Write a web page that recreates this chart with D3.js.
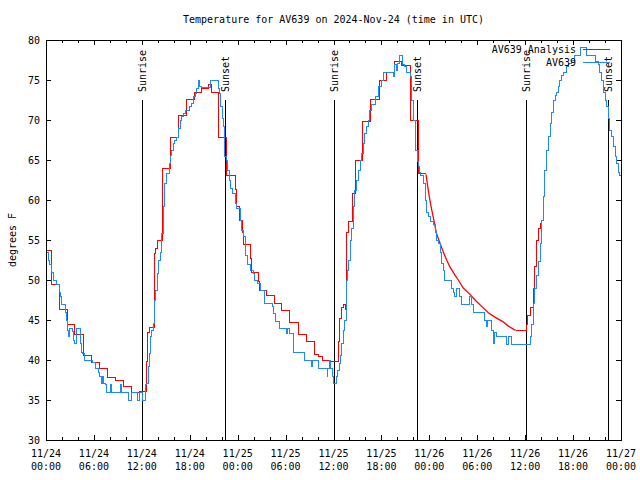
<!DOCTYPE html>
<html>
<head>
<meta charset="utf-8">
<script src="https://cdn.jsdelivr.net/npm/d3@7"></script>
<style>
  body { margin: 0; background: #fff; }
  svg { display: block; }
  text { font-family: "DejaVu Sans Mono", "Liberation Mono", monospace; font-size: 10px; fill: #000; }
</style>
</head>
<body>
<svg id="chart" width="640" height="480"></svg>
<script>
// ---- DATA (hours since 2024-11-24 00:00 UTC, degrees F) ----
const title = "Temperature for AV639 on 2024-Nov-24 (time in UTC)";
const yLabel = "degrees F";
const seriesNames = ["AV639 Analysis", "AV639"];

const yTicks = [30, 35, 40, 45, 50, 55, 60, 65, 70, 75, 80];
const xTickHours = [0, 6, 12, 18, 24, 30, 36, 42, 48, 54, 60, 66, 72];
const xTickDates = ["11/24","11/24","11/24","11/24","11/25","11/25","11/25","11/25","11/26","11/26","11/26","11/26","11/27"];
const xTickTimes = ["00:00","06:00","12:00","18:00","00:00","06:00","12:00","18:00","00:00","06:00","12:00","18:00","00:00"];

const sunEvents = [
  ["Sunrise", 12.07], ["Sunset", 22.47],
  ["Sunrise", 36.09], ["Sunset", 46.47],
  ["Sunrise", 60.12], ["Sunset", 70.43]
];

// analysis: stepped hourly values, except a smoothly varying stretch (night of 11/25-26)
const analysisSmoothRange = [47.58, 58.8];
const analysis = [
  [0,53.7],[0.71,49.4],[1.63,46.3],[2.67,44.5],[3.63,43.2],[4.67,40.6],[5.72,39.7],[6.67,39.0],
  [7.73,37.8],[8.64,37.4],[9.68,36.75],[10.73,36.0],[11.68,36.1],[12.56,39.8],[12.73,43.4],[12.9,44.1],
  [13.56,53.3],[13.74,54.0],[13.9,55.0],[14.59,64.0],[15.59,67.8],[16.65,70.6],[17.62,72.6],[18.6,73.5],
  [19.5,74.0],[20.32,74.5],[20.75,73.5],[21.58,67.8],[22.63,63.1],[23.67,61.3],[23.88,59.2],[24.29,57.5],
  [24.58,55.9],[24.79,54.5],[25.63,52.7],[25.76,51.0],[26.58,49.8],[26.79,48.75],[27.64,48.1],[28.55,47.1],
  [29.51,46.25],[30.55,44.7],[31.59,43.2],[32.64,42.3],[33.56,40.7],[34.1,40.4],[34.65,40.0],[35.65,39.8],
  [36.6,42.3],[36.81,45.2],[37.03,46.6],[37.23,46.9],[37.44,46.3],[37.57,55.0],[37.69,56.0],[37.85,57.3],
  [38.32,60.8],[38.78,64.9],[39.66,69.8],[40.66,72.6],[41.74,75.0],[42.66,76.0],[43.7,77.3],[44.54,76.8],
  [45.58,69.9],[46.62,63.3],[47.58,63.2],[47.9,61.0],[48.15,59.5],[48.5,57.8],[48.9,55.8],
  [49.34,54.6],[49.75,53.5],[50.17,52.5],[50.59,51.6],[51.21,50.6],[51.63,50.0],[52.25,49.0],[53.09,48.2],
  [53.72,47.5],[54.55,46.7],[55.38,45.9],[56.3,45.3],[57.2,44.8],[57.8,44.3],[58.6,43.8],[58.8,43.75],
  [60.15,44.5],[60.3,45.6],[60.7,46.6],[61.05,49.0],[61.2,51.7],[61.45,55.0],[61.65,56.5],[61.9,57.1],[62.0,57.1]
];

const observed = [
  [0,53.4],[0.29,52.5],[0.5,52.0],[0.71,51.0],[0.91,50.0],[1.34,49.4],[1.67,48.5],[1.84,47.9],[1.97,47.0],
  [2.5,46.0],[2.59,45.0],[2.72,43.75],[2.79,42.9],[2.88,44.0],[3.29,43.6],[3.42,42.5],[3.54,42.1],[3.84,44.0],
  [4.26,42.1],[4.42,41.0],[4.6,40.8],[4.88,40.0],[5.85,39.7],[6.14,39.0],[6.55,38.4],[6.76,37.9],[6.97,37.1],
  [7.1,37.9],[7.18,37.1],[7.39,36.9],[7.6,36.0],[8.1,36.9],[8.23,36.0],[9.35,36.9],[9.48,36.0],[10.39,35.0],
  [10.73,36.0],[11.48,35.0],[11.77,36.0],[12.06,35.0],[12.48,36.9],[12.6,37.1],[12.81,39.2],[12.94,40.8],
  [13.11,42.9],[13.24,43.75],[13.44,44.6],[13.56,47.5],[13.74,48.75],[13.9,50.8],[14.06,52.5],[14.28,53.5],
  [14.5,55.8],[14.69,59.2],[14.9,62.1],[15.1,63.3],[15.44,64.6],[15.61,65.6],[15.74,66.25],[15.94,67.1],
  [16.15,67.5],[16.36,67.8],[16.57,69.0],[16.78,70.0],[16.99,70.4],[17.19,70.8],[17.41,71.25],[18.03,71.7],
  [18.25,72.1],[18.44,72.9],[18.66,73.3],[18.87,74.0],[19.07,75.0],[19.28,74.2],[19.5,74.1],[20.54,75.0],
  [21.58,74.0],[21.7,73.3],[21.88,71.7],[22.04,70.2],[22.2,69.2],[22.33,67.5],[22.41,65.4],[22.63,65.0],
  [22.75,63.75],[22.95,62.5],[23.13,61.5],[23.38,60.8],[23.67,59.6],[23.88,59.0],[24.38,57.5],[24.51,56.25],
  [24.71,55.4],[24.92,54.2],[25.04,53.1],[25.21,51.9],[25.63,51.25],[25.96,50.8],[26.08,50.0],[26.46,49.6],
  [26.8,48.75],[27.3,48.3],[27.42,47.1],[28.39,46.7],[28.46,45.8],[28.68,44.8],[29.21,44.0],[30.14,43.3],
  [30.3,44.0],[30.55,43.3],[31.05,41.0],[32.43,40.0],[33.27,39.2],[33.4,40.0],[34.1,39.0],[35.19,37.9],
  [35.31,39.0],[35.48,40.0],[35.62,39.0],[35.9,37.9],[36.06,37.1],[36.36,37.9],[36.53,38.75],[36.73,39.6],
  [36.9,40.6],[37.03,42.1],[37.23,43.75],[37.35,45.0],[37.57,48.5],[37.65,50.0],[37.78,51.25],[37.9,52.5],
  [38.07,53.75],[38.16,55.0],[38.28,56.5],[38.48,59.2],[38.69,61.25],[38.91,62.5],[39.11,63.75],[39.32,65.0],
  [39.53,65.8],[39.73,67.1],[39.94,68.3],[40.16,69.2],[40.36,70.0],[40.57,71.25],[40.78,71.9],[41.2,72.9],
  [41.61,74.2],[42.04,75.0],[42.32,76.0],[43.49,75.5],[43.64,76.0],[43.7,76.9],[43.89,76.2],[43.99,77.1],
  [44.24,78.1],[44.67,76.9],[44.95,76.7],[45.17,76.0],[45.58,75.4],[45.8,72.5],[46.0,70.0],[46.21,67.9],
  [46.33,66.25],[46.49,64.8],[46.62,64.2],[46.74,63.5],[46.92,63.1],[47.33,62.1],[47.55,60.0],[47.67,58.5],
  [47.87,57.9],[48.17,57.3],[48.5,56.9],[48.71,56.0],[48.92,55.0],[49.12,54.6],[49.34,53.5],[49.55,52.1],
  [49.75,51.25],[49.96,50.0],[50.8,49.0],[51.0,48.5],[51.21,48.0],[51.4,49.0],[51.72,48.0],[52.05,47.0],
  [53.09,48.0],[53.22,47.0],[53.51,46.0],[54.85,45.0],[55.1,44.2],[55.27,45.0],[55.81,43.75],[56.01,42.1],
  [56.16,43.5],[56.35,43.0],[57.69,42.0],[57.92,43.0],[58.32,42.0],[60.61,43.0],[60.82,44.4],[61.02,47.1],
  [61.23,49.0],[61.44,50.6],[61.65,52.3],[61.86,54.6],[62.07,57.5],[62.27,60.4],[62.48,63.75],[62.7,66.25],
  [62.9,67.9],[63.11,69.6],[63.32,71.0],[63.52,72.5],[63.74,73.1],[63.95,73.5],[64.15,74.2],[64.36,75.0],
  [64.57,75.6],[64.78,76.0],[65.2,76.7],[65.4,77.1],[65.83,77.5],[66.12,78.1],[66.87,79.1],[67.71,78.1],
  [68.75,77.3],[69.16,76.9],[69.37,76.0],[69.58,75.0],[69.78,73.5],[70.0,72.5],[70.21,71.7],[70.41,70.2],
  [70.62,68.75],[70.84,67.9],[71.04,66.7],[71.25,65.4],[71.46,64.6],[71.67,63.5],[71.85,63.1],[72,63.0]
];

// ---- LAYOUT ----
const W = 640, H = 480;
const m = { left: 46, right: 19, top: 40, bottom: 40 };
const colors = { analysis: "#ff0000", observed: "#1e88ff" };

const svg = d3.select("#chart");
const x = d3.scaleLinear().domain([0, 72]).range([m.left, W - m.right]);
const y = d3.scaleLinear().domain([30, 80]).range([H - m.bottom, m.top]);
const x0 = x.range()[0], x1 = x.range()[1], y0 = y.range()[0], y1 = y.range()[1];

svg.append("rect").attr("width", W).attr("height", H).attr("fill", "#fff");

svg.append("clipPath").attr("id", "plot").append("rect")
  .attr("x", x0).attr("y", y1).attr("width", x1 - x0).attr("height", y0 - y1);

const minorHours = d3.range(0, 73, 2).filter(h => h % 6 !== 0);

function tickGroup(axisFn, scale, values, size, translate) {
  const g = svg.append("g")
    .attr("transform", translate)
    .attr("shape-rendering", "crispEdges")
    .call(axisFn(scale).tickValues(values).tickSize(size).tickFormat(""));
  g.select(".domain").remove();
  g.selectAll("line").attr("stroke", "#000");
}
tickGroup(d3.axisBottom, x, xTickHours, -5, `translate(0,${y0})`);
tickGroup(d3.axisBottom, x, minorHours, -3, `translate(0,${y0})`);
tickGroup(d3.axisTop, x, xTickHours, -5, `translate(0,${y1})`);
tickGroup(d3.axisTop, x, minorHours, -3, `translate(0,${y1})`);
tickGroup(d3.axisLeft, y, yTicks, -5, `translate(${x0},0)`);
tickGroup(d3.axisRight, y, yTicks, -5, `translate(${x1},0)`);

svg.append("g").selectAll("text").data(yTicks).join("text")
  .attr("x", x0 - 6).attr("y", d => y(d)).attr("dy", "0.35em")
  .attr("text-anchor", "end").text(d => d);

const xl = svg.append("g").selectAll("g").data(xTickHours).join("g");
xl.append("text").attr("x", d => x(d)).attr("y", y0 + 13).attr("dy", "0.35em")
  .attr("text-anchor", "middle").text((d, i) => xTickDates[i]);
xl.append("text").attr("x", d => x(d)).attr("y", y0 + 26).attr("dy", "0.35em")
  .attr("text-anchor", "middle").text((d, i) => xTickTimes[i]);

svg.append("text").attr("x", (x0 + x1) / 2).attr("y", 19).attr("dy", "0.35em")
  .attr("text-anchor", "middle").text(title);
svg.append("text").attr("transform", `translate(12,${(y0 + y1) / 2}) rotate(-90)`)
  .attr("dy", "0.35em").attr("text-anchor", "middle").text(yLabel);

// sunrise / sunset markers
const sunTop = 72.5;
const sg = svg.append("g");
sg.selectAll("line").data(sunEvents).join("line")
  .attr("x1", d => x(d[1])).attr("x2", d => x(d[1]))
  .attr("y1", y(30)).attr("y2", y(sunTop))
  .attr("stroke", "#000").attr("stroke-width", 1).attr("shape-rendering", "crispEdges");
sg.selectAll("text").data(sunEvents).join("text")
  .attr("transform", d => `translate(${x(d[1]) + 0.5},${y(sunTop) - 8}) rotate(-90)`)
  .attr("dy", "0.35em").attr("text-anchor", "start").text(d => d[0]);

// data lines
const stepLine = d3.line().x(d => x(d[0])).y(d => y(d[1])).curve(d3.curveStepAfter);
const smoothLine = d3.line().x(d => x(d[0])).y(d => y(d[1])).curve(d3.curveLinear);
const [sA, sB] = analysisSmoothRange;
const aPre = analysis.filter(d => d[0] <= sA);
const aMid = analysis.filter(d => d[0] >= sA && d[0] <= sB);
const aPost = analysis.filter(d => d[0] >= sB);

const dg = svg.append("g").attr("clip-path", "url(#plot)");
function drawPath(data, gen, color, crisp) {
  dg.append("path").datum(data).attr("d", gen)
    .attr("fill", "none").attr("stroke", color).attr("stroke-width", crisp ? 1 : 1.3)
    .attr("shape-rendering", crisp ? "crispEdges" : "auto");
}
drawPath(aPre, stepLine, colors.analysis, true);
drawPath(aMid, smoothLine, colors.analysis, false);
drawPath(aPost, stepLine, colors.analysis, true);
drawPath(observed, stepLine, colors.observed, true);

// border
svg.append("rect").attr("x", x0).attr("y", y1).attr("width", x1 - x0).attr("height", y0 - y1)
  .attr("fill", "none").attr("stroke", "#000").attr("shape-rendering", "crispEdges");

// legend
const legend = [[seriesNames[0], colors.analysis, 49], [seriesNames[1], colors.observed, 62]];
const lg = svg.append("g").selectAll("g").data(legend).join("g");
lg.append("text").attr("x", 576).attr("y", d => d[2]).attr("dy", "0.35em")
  .attr("text-anchor", "end").text(d => d[0]);
lg.append("line").attr("x1", 583).attr("x2", 610).attr("y1", d => d[2] + 0.5).attr("y2", d => d[2] + 0.5)
  .attr("stroke", d => d[1]).attr("stroke-width", 1).attr("shape-rendering", "crispEdges");
</script>
</body>
</html>
